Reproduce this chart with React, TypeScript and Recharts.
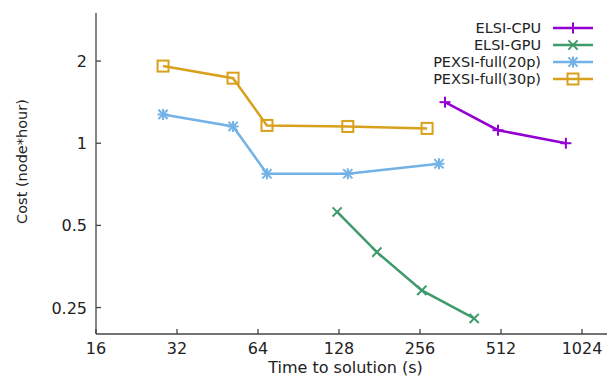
import React from 'react';
import { LineChart, Line, XAxis, YAxis, Legend, Label } from 'recharts';

// ---- data ----
const xTicks = [16, 32, 64, 128, 256, 512, 1024];
const yTicks = [0.25, 0.5, 1, 2];

const cpuTime = [317, 499, 892];
const cpuCost = [1.414, 1.116, 1.0];

const gpuTime = [126, 177, 260, 407];
const gpuCost = [0.56, 0.399, 0.289, 0.228];

const p20Time = [28.4, 51.7, 69.1, 138, 301];
const p20Cost = [1.275, 1.152, 0.773, 0.773, 0.841];

const p30Time = [28.4, 51.7, 69.1, 138, 272];
const p30Cost = [1.917, 1.731, 1.162, 1.152, 1.133];

const seriesNames = ['ELSI-CPU', 'ELSI-GPU', 'PEXSI-full(20p)', 'PEXSI-full(30p)'];
const seriesColors = ['#9400d3', '#3f9a6c', '#72b2e6', '#d9a01c'];
const seriesMarkers = ['plus', 'cross', 'star', 'square'];

const toData = (xs: number[], ys: number[]) => xs.map((x, i) => ({ x, y: ys[i] }));
const allData = [
  toData(cpuTime, cpuCost),
  toData(gpuTime, gpuCost),
  toData(p20Time, p20Cost),
  toData(p30Time, p30Cost),
];

const W = 640;
const H = 376;
const FONT = 'DejaVu Sans';
const AXIS = '#444';

function Marker({ kind, cx, cy, color }: any) {
  const s = 5.5;
  const d = 4.6;
  const sw = 2;
  if (cx == null || cy == null) return null;
  const plus = (
    <>
      <line x1={cx - s} x2={cx + s} y1={cy} y2={cy} stroke={color} strokeWidth={sw} />
      <line x1={cx} x2={cx} y1={cy - s} y2={cy + s} stroke={color} strokeWidth={sw} />
    </>
  );
  const cross = (
    <>
      <line x1={cx - d} x2={cx + d} y1={cy - d} y2={cy + d} stroke={color} strokeWidth={sw} />
      <line x1={cx - d} x2={cx + d} y1={cy + d} y2={cy - d} stroke={color} strokeWidth={sw} />
    </>
  );
  if (kind === 'plus') return <g>{plus}</g>;
  if (kind === 'cross') return <g>{cross}</g>;
  if (kind === 'star') return <g>{plus}{cross}</g>;
  return (
    <rect x={cx - s} y={cy - s} width={2 * s} height={2 * s} fill="none" stroke={color} strokeWidth={sw} />
  );
}

const BottomTick = (props: any) => {
  const { x, y, payload } = props;
  return (
    <g>
      <line x1={x} x2={x} y1={y} y2={y - 5} stroke={AXIS} strokeWidth={1.3} />
      <text x={x} y={y + 20} textAnchor="middle" fontFamily={FONT} fontSize={16} fill="#222">
        {payload.value}
      </text>
    </g>
  );
};

const TopTick = (props: any) => {
  const { x, y } = props;
  return <line x1={x} x2={x} y1={y} y2={y + 5} stroke={AXIS} strokeWidth={1.3} />;
};

const LeftTick = (props: any) => {
  const { x, y, payload } = props;
  return (
    <g>
      <line x1={x} x2={x + 5} y1={y} y2={y} stroke={AXIS} strokeWidth={1.3} />
      <text x={x - 9} y={y + 6} textAnchor="end" fontFamily={FONT} fontSize={16} fill="#222">
        {payload.value}
      </text>
    </g>
  );
};

const RightTick = (props: any) => {
  const { x, y } = props;
  return <line x1={x} x2={x - 5} y1={y} y2={y} stroke={AXIS} strokeWidth={1.3} />;
};

const LegendBox = (props: any) => {
  const payload = props.payload || [];
  const textRight = 541;
  const lineX1 = 553;
  const lineX2 = 593;
  const y0 = 28;
  const dy = 17;
  return (
    <svg width={W} height={H} style={{ position: 'absolute', left: 0, top: 0, pointerEvents: 'none' }}>
      {payload.map((entry: any, i: number) => {
        const idx = seriesNames.indexOf(entry.value);
        const color = seriesColors[idx];
        const y = y0 + i * dy;
        return (
          <g key={entry.value}>
            <text x={textRight} y={y + 5} textAnchor="end" fontFamily={FONT} fontSize={14.5} fill="#222">
              {entry.value}
            </text>
            <line x1={lineX1} x2={lineX2} y1={y} y2={y} stroke={color} strokeWidth={2.5} />
            <Marker kind={seriesMarkers[idx]} cx={(lineX1 + lineX2) / 2} cy={y} color={color} />
          </g>
        );
      })}
    </svg>
  );
};

export default function App() {
  return (
    <div style={{ position: 'fixed', left: 0, top: 0, width: 607, height: 376, overflow: 'hidden', background: '#fff' }}>
      <LineChart width={W} height={H} margin={{ top: 13, right: 31, bottom: 0, left: 0 }}>
        <XAxis
          dataKey="x"
          type="number"
          scale="log"
          domain={[16, 1290]}
          allowDataOverflow
          ticks={xTicks}
          interval={0}
          height={42}
          tickSize={0}
          tickMargin={0}
          tickLine={false}
          tick={<BottomTick />}
          axisLine={{ stroke: AXIS, strokeWidth: 1.3 }}
        >
          <Label
            content={(p: any) => {
              const vb = p.viewBox;
              return (
                <text x={vb.x + vb.width / 2 - 7} y={vb.y + 39} textAnchor="middle" fontFamily={FONT} fontSize={16} fill="#222">
                  Time to solution (s)
                </text>
              );
            }}
          />
        </XAxis>
        <XAxis
          xAxisId="top"
          orientation="top"
          dataKey="x"
          type="number"
          scale="log"
          domain={[16, 1290]}
          allowDataOverflow
          ticks={xTicks}
          interval={0}
          height={0}
          tickSize={0}
          tickMargin={0}
          tickLine={false}
          tick={<TopTick />}
          axisLine={{ stroke: AXIS, strokeWidth: 1.3 }}
        />
        <YAxis
          dataKey="y"
          type="number"
          scale="log"
          domain={[0.2, 3]}
          allowDataOverflow
          ticks={yTicks}
          interval={0}
          width={96}
          tickSize={0}
          tickMargin={0}
          tickLine={false}
          tick={<LeftTick />}
          axisLine={{ stroke: AXIS, strokeWidth: 1.3 }}
        >
          <Label
            content={(p: any) => {
              const vb = p.viewBox;
              const cx = 22;
              const cy = vb.y + vb.height / 2 - 12;
              return (
                <text
                  x={cx}
                  y={cy}
                  transform={`rotate(-90 ${cx} ${cy})`}
                  textAnchor="middle"
                  dominantBaseline="central"
                  fontFamily={FONT}
                  fontSize={14.5}
                  fill="#222"
                >
                  Cost (node*hour)
                </text>
              );
            }}
          />
        </YAxis>
        <YAxis
          yAxisId="right"
          orientation="right"
          dataKey="y"
          type="number"
          scale="log"
          domain={[0.2, 3]}
          allowDataOverflow
          ticks={yTicks}
          interval={0}
          width={0}
          tickSize={0}
          tickMargin={0}
          tickLine={false}
          tick={<RightTick />}
          axisLine={{ stroke: AXIS, strokeWidth: 1.3 }}
        />
        <Legend
          layout="horizontal"
          verticalAlign="middle"
          align="center"
          wrapperStyle={{ left: 0, top: 0, width: W, height: H, pointerEvents: 'none' }}
          content={<LegendBox />}
        />
        {allData.map((d, i) => (
          <Line
            key={seriesNames[i]}
            name={seriesNames[i]}
            data={d}
            dataKey="y"
            type="linear"
            stroke={seriesColors[i]}
            strokeWidth={2.5}
            isAnimationActive={false}
            dot={(p: any) => (
              <Marker key={`${i}-${p.index}`} kind={seriesMarkers[i]} cx={p.cx} cy={p.cy} color={seriesColors[i]} />
            )}
            activeDot={false}
          />
        ))}
      </LineChart>
    </div>
  );
}
